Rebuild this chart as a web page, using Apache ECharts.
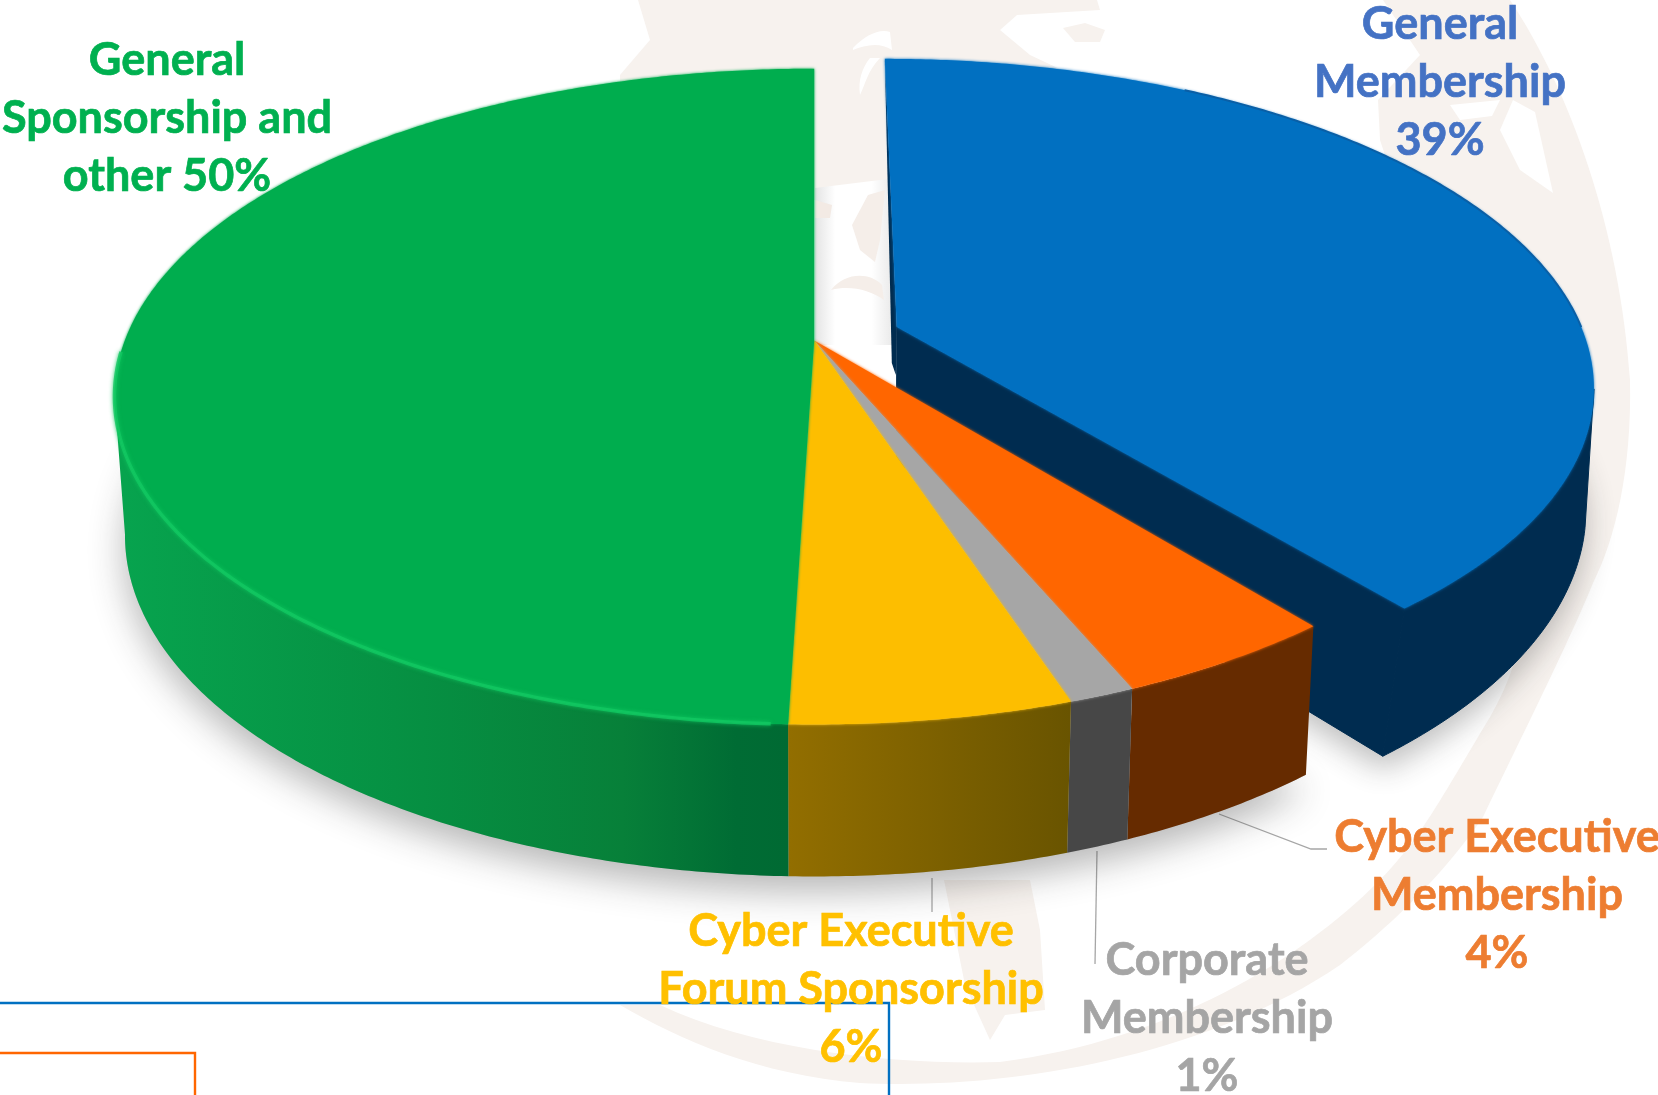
<!DOCTYPE html>
<html>
<head>
<meta charset="utf-8">
<style>html,body{margin:0;padding:0;background:#fff}#c{width:1658px;height:1095px}</style>
<script src="https://cdn.jsdelivr.net/npm/echarts@6/dist/echarts.min.js"></script>
</head>
<body>
<div id="c"></div>
<script>
// ---- data ----
var categories = ['General\nMembership','Cyber Executive\nMembership','Corporate\nMembership','Cyber Executive\nForum Sponsorship','General\nSponsorship and\nother'];
var shares = [39.2, 4.45, 1.3, 5.55, 49.5];
// percentages as printed on the chart
var labelPercents = [39, 4, 1, 6, 50];
var percentSeparators = ['\n','\n','\n','\n',' '];

var topColors  = ['#0170C1','#FF6600','#A6A6A6','#FDBE00','#00AD4E'];
var labelColors= ['#4472C4','#ED7D31','#A5A5A5','#FFC000','#00B050'];

// ---- projection of the tilted disc onto the page ----
var CX=814.2, CY=340.5, RX=689.4, RY=318.3, K=0.171, EXPLODE=0.128;
function project(u,v){var w=1-K*v;return [CX+RX*u/w, CY+RY*v/w];}
function depth(v){return 136+16*v;}
function topPoint(a,off){var t=a*Math.PI/180;var u=Math.sin(t)+off[0],v=-Math.cos(t)+off[1];return project(u,v);}
function bottomOf(p,v,exploded){
  var s=exploded?0.995-0.043*Math.max(v,0):0.985;
  return [CX+(p[0]-CX)*s,p[1]+depth(v)];
}
function arc(a0,a1,off){var r=[],n=Math.max(2,Math.ceil(Math.abs(a1-a0)*2));for(var i=0;i<=n;i++){r.push(topPoint(a0+(a1-a0)*i/n,off));}return r;}
function arcBottom(a0,a1,off,ex){var r=[],n=Math.max(2,Math.ceil(Math.abs(a1-a0)*2));for(var i=0;i<=n;i++){var a=a0+(a1-a0)*i/n;var t=a*Math.PI/180;r.push(bottomOf(topPoint(a,off),-Math.cos(t)+off[1],ex));}return r;}
function hGrad(x0,x1,stops){return {type:'linear',x:x0,y:0,x2:x1,y2:0,global:true,colorStops:stops};}
// angle in [a0,a1] where the rim is furthest to the right (sign=1) or left (sign=-1)
function extremeAngle(a0,a1,off,sign){var best=a0,bx=-Infinity;for(var a=a0;a<=a1;a+=0.5){var x=sign*topPoint(a,off)[0];if(x>bx){bx=x;best=a;}}return best;}

var total=shares.reduce(function(a,b){return a+b;},0);
var starts=[];shares.reduce(function(acc,s,i){starts[i]=acc;return acc+s;},0);

var wallFill=[
  '#002C50',
  '#662B00','#474747',
  hGrad(789,1070,[{offset:0,color:'#926E00'},{offset:1,color:'#695400'}]),
  hGrad(125,789,[{offset:0,color:'#07A34E'},{offset:0.45,color:'#068F42'},{offset:0.75,color:'#078039'},{offset:0.92,color:'#006C34'},{offset:1,color:'#006A33'}])
];
var labelPos=[[1440,82],[1497,895],[1207,1018],[851,989],[167,118]];

function renderItem(params,api){
  var i=params.dataIndex,children=[];
  var a0=starts[i]/total*360,a1=(starts[i]+api.value(0))/total*360;
  var mid=(a0+a1)/2*Math.PI/180;
  var ex=i===0;
  var off=ex?[Math.sin(mid)*EXPLODE,-Math.cos(mid)*EXPLODE]:[0,0];
  var apex=project(off[0],off[1]);
  var apexBot=bottomOf(apex,off[1],ex);
  if(i===0){
    // soft shadow below the whole pie
    children.push({type:'polygon',shape:{points:arcBottom(a1,285,[0,0],false)},style:{fill:'#bbb',shadowBlur:36,shadowColor:'rgba(40,40,40,0.34)',shadowOffsetY:15}});
    children.push({type:'polygon',shape:{points:arcBottom(70,a1,off,true).concat([apexBot])},style:{fill:'#bbb',shadowBlur:30,shadowColor:'rgba(40,40,40,0.3)',shadowOffsetY:13}});
  }
  var topArc=arc(a0,a1,off);
  // outer wall: only the part from the rim's side extreme towards the viewer
  var wa0=a0,wa1=a1;
  if(ex){wa0=extremeAngle(a0,a1,off,1);}
  if(i===4){wa1=extremeAngle(a0,a1,off,-1);}
  var wallStroke=ex?'#002C50':null;
  children.push({type:'polygon',shape:{points:arc(wa0,wa1,off).concat(arcBottom(wa0,wa1,off,ex).reverse())},style:{fill:wallFill[i],stroke:wallStroke,lineWidth:wallStroke?1:0}});
  if(ex){
    // cut faces of the pulled-out slice
    var endTop=topPoint(a1,off),endBot=arcBottom(a1,a1,off,ex)[0];
    children.push({type:'polygon',shape:{points:[apex,endTop,endBot,apexBot]},style:{fill:'#002C50',stroke:'#002C50',lineWidth:1}});
    var startTop=topPoint(a0,off);
    children.push({type:'polygon',shape:{points:[startTop,apex,[apex[0]-1,apex[1]+48],[apex[0]-5,apex[1]+36]]},style:{fill:'#002C50'}});
  }
  // top face
  children.push({type:'polygon',shape:{points:[apex].concat(topArc)},style:{fill:topColors[i],shadowBlur:3,shadowColor:topColors[i]}});
  if(i===4){
    children.push({type:'polyline',shape:{points:arc(183,268,off)},style:{stroke:'#12C862',lineWidth:3.5,fill:'none',opacity:0.8,shadowBlur:4,shadowColor:'#12C862'}});
  }
  if(ex){
    children.push({type:'polyline',shape:{points:arc(30,90,off)},style:{stroke:'#0A5FA6',lineWidth:2,fill:'none'}});
  }
  return {type:'group',children:children};
}

function renderLabels(params,api){
  var i=params.dataIndex;
  return {type:'text',style:{
    text:categories[i]+percentSeparators[i]+labelPercents[i]+'%',
    x:labelPos[i][0],y:labelPos[i][1],align:'center',verticalAlign:'middle',
    fill:labelColors[i],stroke:labelColors[i],lineWidth:0.7,font:'bold 45px Lato',lineHeight:58
  }};
}

var beige='#F7F2EE';
var gapFill=hGrad(815,896,[{offset:0,color:'#E4E4E4'},{offset:0.25,color:'#FFFFFF'},{offset:0.7,color:'#FFFFFF'},{offset:1,color:'#E6E6E6'}]);
var watermarkPaths=[
 {d:'M1383,0 L1510,0 C1570,90 1620,230 1630,380 C1632,470 1615,540 1593,583 C1570,640 1520,740 1483,817 C1440,880 1385,930 1340,965 C1200,1060 1000,1090 860,1083 C760,1075 680,1040 620,1005 L660,1005 C760,1052 900,1065 1000,1062 C1170,1040 1300,960 1378,882 C1420,840 1440,800 1490,717 C1530,650 1540,560 1500,500 L1380,140 L1378,100 L1420,55 Z',f:beige},
 {d:'M1513,100 L1535,112 L1553,193 L1520,170 L1500,130 Z',f:'#FFFFFF'},
 {d:'M1450,105 L1500,100 L1492,116 L1460,120 Z',f:'#FFFFFF'},
 {d:'M638,0 L1097,0 L1100,10 L1017,15 L1000,30 L1030,55 L1062,70 L1000,200 L620,200 L620,75 L650,40 Z',f:beige},
 {d:'M1063,28 L1085,23 L1105,30 L1100,42 L1075,42 Z',f:beige},
 {d:'M853,48 C865,35 880,28 890,32 L892,50 C880,42 865,45 853,50 Z',f:'#FFFFFF'},
 {d:'M870,58 L880,58 C868,70 865,85 860,95 C858,80 862,68 870,58 Z',f:'#FFFFFF'},
 {d:'M815,188 L896,178 L896,345 L815,345 Z',f:gapFill},
 {d:'M815,200 L832,205 L830,218 L815,218 Z',f:'#F3EAE4'},
 {d:'M868,195 L885,190 L880,240 L875,262 L860,250 L852,225 Z',f:'#F5EEE9'},
 {d:'M831,290 C845,272 870,272 882,285 L884,300 C870,290 850,285 831,290 Z',f:'#F5EEE9'},
 {d:'M944,880 L1030,880 L1040,930 L1045,1010 L1005,1015 L990,1040 L965,985 Z',f:beige}
];
function renderWatermark(params){
  var p=watermarkPaths[params.dataIndex];
  return {type:'path',shape:{pathData:p.d},style:{fill:p.f}};
}
var chart=echarts.init(document.getElementById('c'),null,{renderer:'canvas'});
chart.setOption({
  animation:false,
  backgroundColor:'#ffffff',
  graphic:[
    {type:'polyline',z:1,shape:{points:[[0,1003],[889,1003],[889,1095]]},style:{stroke:'#0170C1',lineWidth:2.4,fill:'none'}},
    {type:'polyline',z:1,shape:{points:[[0,1053],[195,1053],[195,1095]]},style:{stroke:'#FF6600',lineWidth:2.4,fill:'none'}},
    {type:'polyline',z:1,shape:{points:[[1219,814],[1311,849],[1327,849]]},style:{stroke:'#A6A6A6',lineWidth:1.3,fill:'none'}},
    {type:'polyline',z:1,shape:{points:[[1097,851],[1095,964]]},style:{stroke:'#A6A6A6',lineWidth:1.3,fill:'none'}},
    {type:'polyline',z:1,shape:{points:[[932,878],[932,912]]},style:{stroke:'#A6A6A6',lineWidth:1.3,fill:'none'}}
  ],
  series:[
    {type:'custom',coordinateSystem:'none',name:'Watermark',z:0,silent:true,clip:false,renderItem:renderWatermark,data:watermarkPaths.map(function(p,i){return [i];})},
    {type:'custom',coordinateSystem:'none',name:'Share',z:2,silent:true,clip:false,renderItem:renderItem,data:shares.map(function(v){return [v];}),encode:{value:0}},
    {type:'custom',coordinateSystem:'none',name:'Labels',z:5,silent:true,clip:false,renderItem:renderLabels,data:shares.map(function(v){return [v];}),encode:{value:0}}
  ]
});
</script>
</body>
</html>
